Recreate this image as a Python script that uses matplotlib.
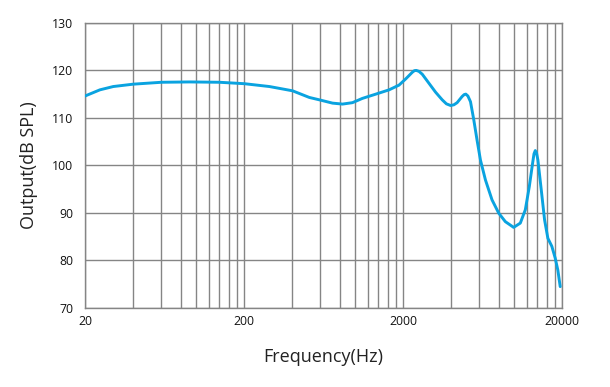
import matplotlib
matplotlib.use("Agg")
import matplotlib.pyplot as plt
import numpy as np

# Frequency response
freq_hz = [20, 24.8, 30.1, 40.2, 60.5, 91, 140, 201, 289, 404, 515, 595, 721, 833,
           962, 1111, 1349, 1634, 1888, 2079, 2287, 2360, 2424, 2520, 2643, 2911,
           3207, 3528, 3750, 3984, 4180, 4379, 4708, 4850, 4966, 5120, 5315, 5573,
           5845, 6139, 6600, 7260, 7998, 8808, 9929, 10936, 11756, 12456, 13062,
           13330, 13585, 13850, 14106, 14813, 15537, 16297, 17263, 18134, 18826,
           19489]
spl_db = [114.6, 115.9, 116.6, 117.1, 117.5, 117.57, 117.5, 117.2, 116.6, 115.7,
          114.3, 113.8, 113.1, 112.9, 113.2, 114.1, 115.0, 115.9, 116.9, 118.2,
          119.6, 119.95, 120.0, 119.8, 119.2, 117.3, 115.4, 113.8, 112.95, 112.6,
          112.75, 113.2, 114.5, 114.9, 115.0, 114.6, 113.4, 109.6, 105.3, 101.1,
          96.9, 92.7, 89.9, 88.1, 86.9, 87.8, 90.6, 95.5, 100.4, 102.4, 103.1,
          102.5, 101.1, 94.8, 88.5, 84.6, 82.9, 80.4, 77.9, 74.4]

x_major = [20, 200, 2000, 20000]
x_major_labels = ["20", "200", "2000", "20000"]
y_ticks = [70, 80, 90, 100, 110, 120, 130]

plt.rcParams['font.family'] = ['Open Sans', 'DejaVu Sans']

fig = plt.figure(figsize=(6.1, 3.87), dpi=100)
ax = fig.add_axes([85/610, 1 - 307.5/387, (562-85)/610, (307.5-23)/387])

ax.plot(freq_hz, spl_db, color='#0AA3E0', lw=2.1, solid_joinstyle='round',
        solid_capstyle='round', zorder=3)

ax.set_xscale('log')
ax.set_xlim(20, 20000)
ax.set_ylim(70, 130)

minor = []
for base in [20, 200, 2000]:
    for k in range(2, 10):
        minor.append(base * k)
ax.set_xticks(x_major)
ax.set_xticklabels(x_major_labels)
ax.set_xticks(minor, minor=True)
ax.set_xticklabels([], minor=True)
ax.set_yticks(y_ticks)

grid_col = '#858585'
ax.grid(True, which='both', axis='x', color=grid_col, lw=1.0)
ax.grid(True, which='major', axis='y', color=grid_col, lw=1.0)
ax.set_axisbelow(True)

for s in ax.spines.values():
    s.set_color(grid_col)
    s.set_linewidth(1.0)

ax.tick_params(axis='both', which='both', length=0, labelsize=8.8, colors='#111111')
ax.tick_params(axis='y', pad=8.5)
ax.tick_params(axis='x', pad=5.5)

ax.set_xlabel('Frequency(Hz)', fontsize=13, color='#222222', labelpad=14)
ax.set_ylabel('Output(dB SPL)', fontsize=13, color='#222222', labelpad=10)

fig.savefig('out.png', dpi=100)
